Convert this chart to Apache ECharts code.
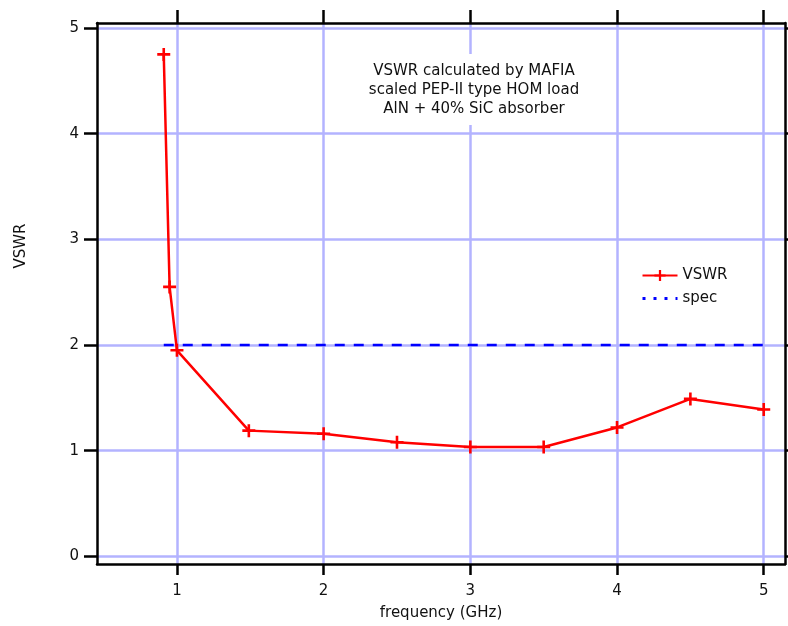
<!DOCTYPE html>
<html>
<head>
<meta charset="utf-8">
<script src="https://cdn.jsdelivr.net/npm/echarts@6/dist/echarts.min.js"></script>
<style>
  html, body { margin: 0; padding: 0; background: #ffffff; }
  #chart { width: 788px; height: 626px; }
</style>
</head>
<body>
<div id="chart"></div>
<script>
// Frequency points (GHz) and computed VSWR of the HOM load
const freqGHz = [0.91, 0.95, 1.0, 1.49, 2.0, 2.5, 3.0, 3.5, 4.0, 4.5, 5.0];
const vswr    = [4.75, 2.55, 1.95, 1.19, 1.16, 1.08, 1.035, 1.035, 1.22, 1.49, 1.39];

// Specification limit
const specFreq  = [0.91, 5.0];
const specValue = [2, 2];

// Tick values
const xTicks = [1, 2, 3, 4, 5];
const yTicks = [0, 1, 2, 3, 4, 5];

const noteLines = [
  'VSWR calculated by MAFIA',
  'scaled PEP-II type HOM load',
  'AlN + 40% SiC absorber'
];

const FONT = '"DejaVu Sans", Verdana, sans-serif';
const TEXT_COLOR = '#111111';
const GRID_COLOR = '#b3b3ff';
const AXIS_COLOR = '#000000';
const PLUS = 'path://M0,4H10V6H0ZM4,0H6V10H4Z';

const chart = echarts.init(document.getElementById('chart'), null, { renderer: 'canvas' });

function frameAxis(extra) {
  return Object.assign({
    type: 'value',
    axisLine: { show: true, onZero: false, lineStyle: { color: AXIS_COLOR, width: 2.5 } },
    axisTick: { show: true, inside: false, length: 13, lineStyle: { color: AXIS_COLOR, width: 2.5 } },
    axisLabel: { show: false },
    splitLine: { show: false }
  }, extra);
}

const xMin = 0.455, xMax = 5.145;
const yMin = -0.072, yMax = 5.047;

chart.setOption({
  animation: false,
  backgroundColor: '#ffffff',
  textStyle: { fontFamily: FONT },
  grid: { left: 97, right: 3, top: 23, bottom: 62, containLabel: false },
  xAxis: [
    frameAxis({
      position: 'bottom', min: xMin, max: xMax,
      name: 'frequency (GHz)', nameLocation: 'middle', nameGap: 42,
      nameTextStyle: { fontFamily: FONT, fontSize: 15, color: TEXT_COLOR },
      axisTick: { show: true, length: 11, customValues: xTicks, lineStyle: { color: AXIS_COLOR, width: 2.5 } },
      axisLabel: { show: true, customValues: xTicks, margin: 20, fontFamily: FONT, fontSize: 15, color: TEXT_COLOR },
      splitLine: { show: true, lineStyle: { color: GRID_COLOR, width: 2.5 } }
    }),
    frameAxis({
      position: 'top', min: xMin, max: xMax,
      axisTick: { show: true, length: 13, customValues: xTicks, lineStyle: { color: AXIS_COLOR, width: 2.5 } }
    })
  ],
  yAxis: [
    frameAxis({
      position: 'left', min: yMin, max: yMax,
      axisTick: { show: true, length: 13, customValues: yTicks, lineStyle: { color: AXIS_COLOR, width: 2.5 } },
      axisLabel: { show: true, customValues: yTicks, margin: 18, fontFamily: FONT, fontSize: 15, color: TEXT_COLOR },
      splitLine: { show: true, lineStyle: { color: GRID_COLOR, width: 2.5 } }
    }),
    frameAxis({
      position: 'right', min: yMin, max: yMax,
      axisTick: { show: true, length: 13, customValues: yTicks, lineStyle: { color: AXIS_COLOR, width: 2.5 } }
    })
  ],
  legend: {
    orient: 'vertical',
    left: 641, top: 268, padding: 0,
    itemWidth: 35, itemHeight: 14, itemGap: 8,
    textStyle: { fontFamily: FONT, fontSize: 15, color: TEXT_COLOR },
    data: [
      { name: 'VSWR' },
      {
        name: 'spec',
        itemStyle: { opacity: 0 },
        lineStyle: { type: [3, 8], width: 3, color: '#0000ff' }
      }
    ]
  },
  graphic: [
    {
      type: 'text',
      x: 474, y: 54, z: 10,
      style: {
        text: noteLines.join('\n'),
        fill: TEXT_COLOR, fontFamily: FONT, fontSize: 15, lineHeight: 19,
        textAlign: 'center', textVerticalAlign: 'top',
        backgroundColor: '#ffffff', padding: [8, 8, 6, 8]
      }
    },
    {
      type: 'text',
      x: 21, y: 246, rotation: Math.PI / 2,
      style: {
        text: 'VSWR',
        fill: TEXT_COLOR, fontFamily: FONT, fontSize: 15,
        textAlign: 'center', textVerticalAlign: 'middle'
      }
    }
  ],
  series: [
    {
      name: 'spec', type: 'line',
      data: specFreq.map((f, i) => [f, specValue[i]]),
      symbol: 'none',
      lineStyle: { color: '#0000ff', width: 2.5, type: [10, 9] },
      itemStyle: { color: '#0000ff' },
      z: 3
    },
    {
      name: 'VSWR', type: 'line',
      data: freqGHz.map((f, i) => [f, vswr[i]]),
      symbol: PLUS, symbolSize: 13, showSymbol: true,
      lineStyle: { color: '#ff0000', width: 2.5 },
      itemStyle: { color: '#ff0000', borderWidth: 0 },
      z: 4
    }
  ]
});
</script>
</body>
</html>
